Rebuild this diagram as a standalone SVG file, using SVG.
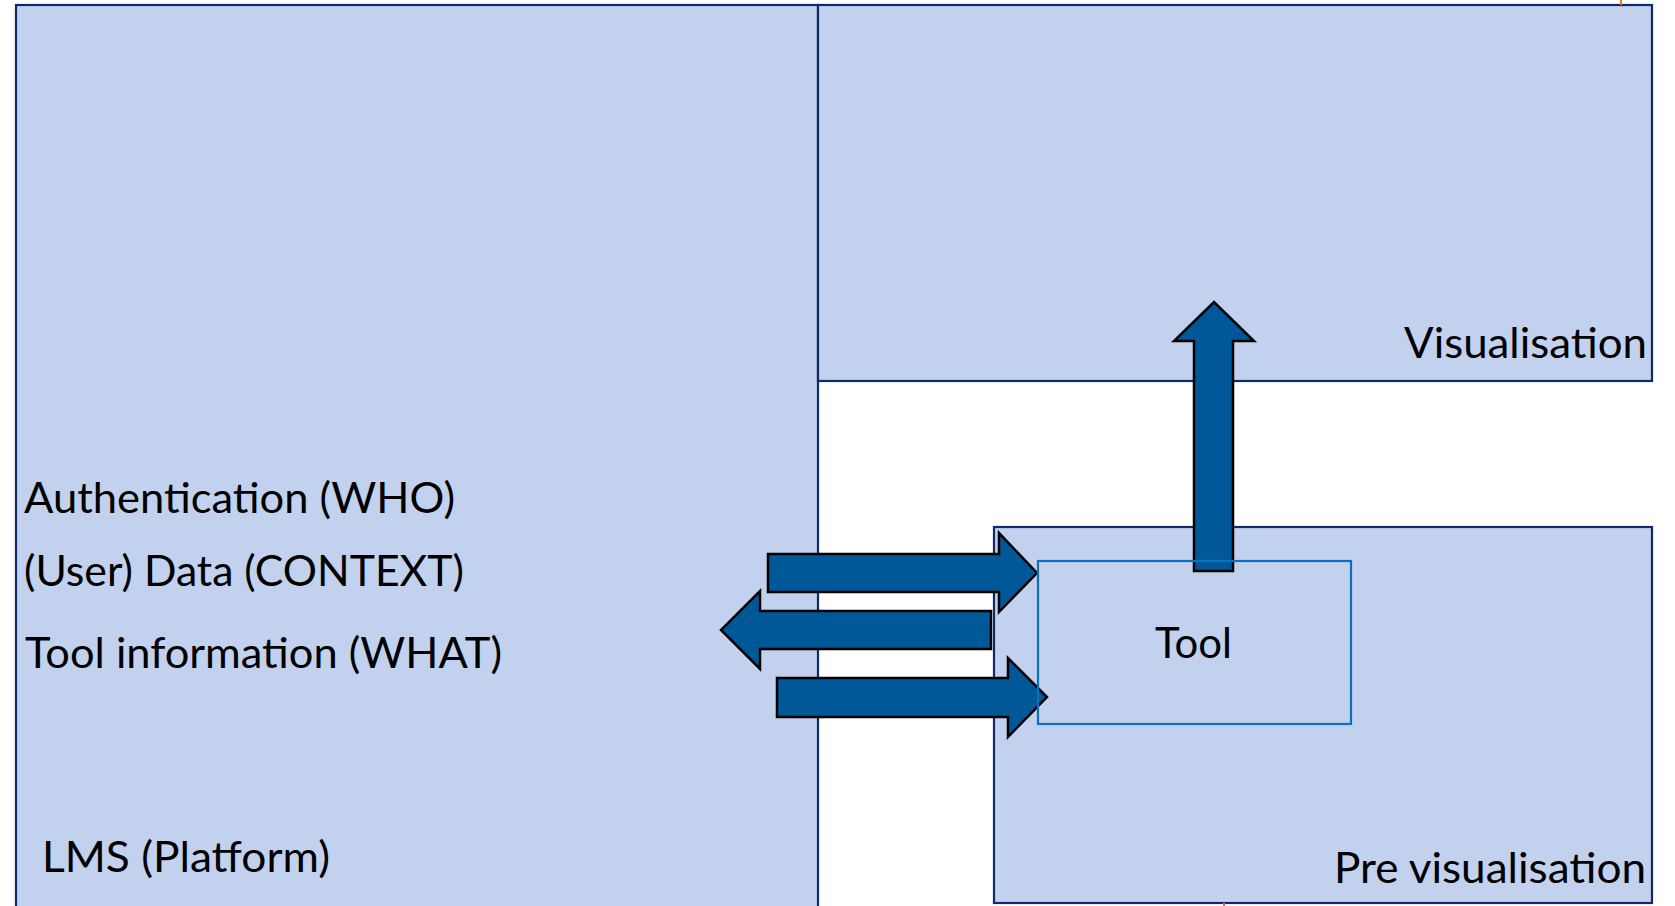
<svg xmlns="http://www.w3.org/2000/svg" width="1675" height="906" viewBox="0 0 1675 906">
  <defs>
    <style>
      .panel { fill: #C2D1ED; stroke: #0F2A6A; stroke-width: 2.2; }
      .tool { fill: none; stroke: #0A70C2; stroke-width: 2.2; }
      .arrow { fill: #005899; stroke: #000000; stroke-width: 2.5; stroke-linejoin: miter; }
      .label { font-family: Lato, "Liberation Sans", sans-serif; font-size: 42px; fill: #000000; }
      .tick { stroke: #E37A1A; stroke-width: 2; }
    </style>
  </defs>
  <rect width="1675" height="906" fill="#FFFFFF"/>

  <!-- platform panel (runs off the bottom edge) -->
  <g id="lms">
    <rect class="panel" x="16" y="5" width="802" height="910"/>
    <text class="label" x="24" y="513" textLength="431" lengthAdjust="spacingAndGlyphs">Authentication (WHO)</text>
    <text class="label" x="24" y="586" textLength="440" lengthAdjust="spacingAndGlyphs">(User) Data (CONTEXT)</text>
    <text class="label" x="25" y="668" textLength="477" lengthAdjust="spacingAndGlyphs">Tool information (WHAT)</text>
    <text class="label" x="42" y="872" textLength="288" lengthAdjust="spacingAndGlyphs">LMS (Platform)</text>
  </g>

  <g id="visualisation">
    <rect class="panel" x="818" y="5" width="834" height="376"/>
    <text class="label" x="1404" y="358" textLength="243" lengthAdjust="spacingAndGlyphs">Visualisation</text>
  </g>

  <g id="pre-visualisation">
    <rect class="panel" x="994" y="527" width="658" height="376"/>
    <text class="label" x="1334" y="883" textLength="312" lengthAdjust="spacingAndGlyphs">Pre visualisation</text>
  </g>

  <!-- block arrows between platform, tool and visualisation -->
  <g id="connectors">
    <polygon class="arrow" points="1194,571 1194,341 1174,341 1214,302 1254,341 1233,341 1233,571"/>
    <polygon class="arrow" points="768,554 999,554 999,533 1037,573 999,612 999,592 768,592"/>
    <polygon class="arrow" points="991,611 760,611 760,591 721,630 760,669 760,649 991,649"/>
    <polygon class="arrow" points="777,678 1008,678 1008,658 1047,697 1008,737 1008,717 777,717"/>
  </g>

  <g id="tool">
    <rect class="tool" x="1038" y="561" width="313" height="163"/>
    <text class="label" x="1155" y="658" textLength="77" lengthAdjust="spacingAndGlyphs">Tool</text>
  </g>

  <!-- stray edge marks -->
  <g id="edge-marks">
    <line class="tick" x1="1621" y1="0" x2="1621" y2="5"/>
    <line class="tick" x1="1224" y1="903" x2="1224" y2="906"/>
  </g>
</svg>
